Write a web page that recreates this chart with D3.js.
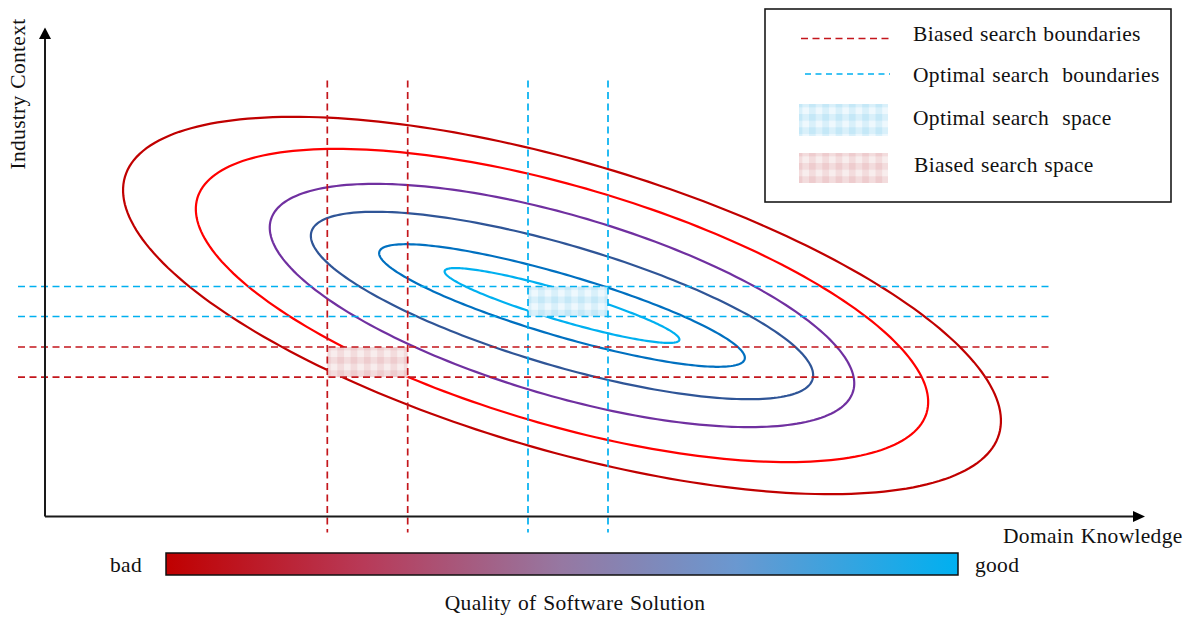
<!DOCTYPE html>
<html>
<head>
<meta charset="utf-8">
<script src="https://cdn.jsdelivr.net/npm/d3@7"></script>
<style>
    body { margin: 0; background: #fff; }
    svg text { font-family: "Liberation Serif", "Times New Roman", serif; fill: #111; letter-spacing: 0.3px; word-spacing: 1px; }
</style>
</head>
<body>
<svg id="chart" width="1186" height="617"></svg>
<script>
// contour levels, outer (bad) to inner (good)
var levelColors = ['#C00000', '#FF0000', '#7030A0', '#2F5597', '#0070C0', '#00B0F0'];
var levelRx = [455.6, 380.1, 303.5, 261.2, 190.4, 122.3];
var levelRy = [143.9, 118.9, 90.0, 60.3, 30.7, 15.1];
var levelCenter = [517, 211];
var levelTilt = -16.4;

// search boundaries
var biasedX = [282.3, 362.7];
var biasedY = [169.5, 139.3];
var optimalX = [483, 563];
var optimalY = [230, 200];

var legendItems = ['Biased search boundaries', 'Optimal search  boundaries', 'Optimal search  space', 'Biased search space'];
var qualityStops = [
    {offset: 0, color: '#C00000'},
    {offset: 0.25, color: '#B83A58'},
    {offset: 0.5, color: '#9678A2'},
    {offset: 0.72, color: '#6A98D0'},
    {offset: 1, color: '#00B0F0'}
];

var svg = d3.select('#chart');
var defs = svg.append('defs');
var fontSize = 21.5;
var biasRed = '#C4161C';

var x = d3.scaleLinear().domain([0, 1100]).range([45, 1145]);
var y = d3.scaleLinear().domain([0, 489]).range([516.5, 27.5]);

// gingham fill
function gingham(id, px, py, base, stripe) {
    var p = defs.append('pattern')
        .attr('id', id)
        .attr('patternUnits', 'userSpaceOnUse')
        .attr('x', px - 3.3).attr('y', py - 3.3)
        .attr('width', 13.3).attr('height', 13.3);
    p.append('rect').attr('width', 13.3).attr('height', 13.3).attr('fill', base);
    p.append('rect').attr('width', 6.7).attr('height', 13.3).attr('fill', stripe).attr('fill-opacity', 0.09);
    p.append('rect').attr('width', 13.3).attr('height', 6.7).attr('fill', stripe).attr('fill-opacity', 0.09);
}

// ellipses
var line = d3.line()
    .x(function (d) { return x(d[0]); })
    .y(function (d) { return y(d[1]); })
    .curve(d3.curveLinearClosed);

function ellipsePoints(a, b) {
    var phi = levelTilt * Math.PI / 180;
    return d3.range(240).map(function (i) {
        var t = i / 240 * 2 * Math.PI;
        var ex = a * Math.cos(t), ey = b * Math.sin(t);
        return [levelCenter[0] + ex * Math.cos(phi) - ey * Math.sin(phi),
                levelCenter[1] + ex * Math.sin(phi) + ey * Math.cos(phi)];
    });
}

svg.append('g').selectAll('path')
    .data(levelColors)
    .enter().append('path')
    .attr('d', function (c, i) { return line(ellipsePoints(levelRx[i], levelRy[i])); })
    .attr('fill', 'none')
    .attr('stroke', function (c) { return c; })
    .attr('stroke-width', 2.2);

// search spaces
function space(id, xs, ys, base, stripe) {
    var x0 = x(xs[0]), y0 = y(ys[0]);
    gingham(id, x0, y0, base, stripe);
    svg.append('rect')
        .attr('x', x0).attr('y', y0)
        .attr('width', x(xs[1]) - x0).attr('height', y(ys[1]) - y0)
        .attr('fill', 'url(#' + id + ')');
}
space('pOpt', optimalX, optimalY, '#EEF8FD', '#00A0E0');
space('pBias', biasedX, biasedY, '#F8EDED', '#C0303A');

// boundaries
var bounds = svg.append('g').attr('stroke-width', 1.7).attr('stroke-dasharray', '7,4.5');
function vLines(xs, color) {
    bounds.selectAll(null).data(xs).enter().append('line')
        .attr('x1', function (d) { return x(d); }).attr('x2', function (d) { return x(d); })
        .attr('y1', y(436)).attr('y2', y(-16))
        .attr('stroke', color);
}
function hLines(ys, color) {
    bounds.selectAll(null).data(ys).enter().append('line')
        .attr('x1', x(-27)).attr('x2', x(1005))
        .attr('y1', function (d) { return y(d); }).attr('y2', function (d) { return y(d); })
        .attr('stroke', color);
}
vLines(biasedX, biasRed);
vLines(optimalX, '#00B0F0');
hLines(optimalY, '#00B0F0');
hLines(biasedY, biasRed);

// axes
var xAxis = d3.axisBottom(x).tickValues([]).tickSizeOuter(0);
var yAxis = d3.axisLeft(y).tickValues([]).tickSizeOuter(0);
svg.append('g').attr('transform', 'translate(0,' + y(0) + ')').call(xAxis)
    .select('.domain').attr('stroke', '#1a1a1a').attr('stroke-width', 2)
    .attr('d', 'M' + x(0) + ',0H' + (x(1100) - 10));
svg.append('g').attr('transform', 'translate(' + x(0) + ',0)').call(yAxis)
    .select('.domain').attr('stroke', '#1a1a1a').attr('stroke-width', 2)
    .attr('d', 'M0,' + y(0) + 'V' + (y(489) + 10));
svg.append('path')
    .attr('d', 'M' + x(1100) + ',' + y(0) + 'l-12,-5.5v11z').attr('fill', '#000');
svg.append('path')
    .attr('d', 'M' + x(0) + ',' + y(489) + 'l-6,11.5h12z').attr('fill', '#000');

svg.append('text').attr('x', 1003).attr('y', 543).attr('font-size', fontSize).text('Domain Knowledge');
svg.append('text').attr('transform', 'translate(25,94) rotate(-90)')
    .attr('text-anchor', 'middle').attr('font-size', fontSize).text('Industry Context');

// quality bar
var grad = defs.append('linearGradient').attr('id', 'quality');
grad.selectAll('stop').data(qualityStops).enter().append('stop')
    .attr('offset', function (d) { return d.offset; })
    .attr('stop-color', function (d) { return d.color; });
svg.append('rect').attr('x', 166).attr('y', 553).attr('width', 792).attr('height', 22)
    .attr('fill', 'url(#quality)').attr('stroke', '#111').attr('stroke-width', 1.5);
svg.append('text').attr('x', 110).attr('y', 572).attr('font-size', fontSize).text('bad');
svg.append('text').attr('x', 975).attr('y', 572).attr('font-size', fontSize).text('good');
svg.append('text').attr('x', 575).attr('y', 610).attr('text-anchor', 'middle')
    .attr('font-size', fontSize).text('Quality of Software Solution');

// legend
var legend = svg.append('g');
legend.append('rect').attr('x', 765).attr('y', 9).attr('width', 406).attr('height', 193)
    .attr('fill', '#fff').attr('stroke', '#1a1a1a').attr('stroke-width', 1.6);
legend.append('line').attr('x1', 801).attr('x2', 890).attr('y1', 38.5).attr('y2', 38.5)
    .attr('stroke', biasRed).attr('stroke-width', 1.7).attr('stroke-dasharray', '7,4.5');
legend.append('line').attr('x1', 805).attr('x2', 890).attr('y1', 74).attr('y2', 74)
    .attr('stroke', '#00B0F0').attr('stroke-width', 1.7).attr('stroke-dasharray', '6,4.5');
gingham('lOpt', 799, 104, '#EEF8FD', '#00A0E0');
gingham('lBias', 799, 153, '#F8EDED', '#C0303A');
legend.append('rect').attr('x', 799).attr('y', 104).attr('width', 89).attr('height', 32).attr('fill', 'url(#lOpt)');
legend.append('rect').attr('x', 799).attr('y', 153).attr('width', 89).attr('height', 30).attr('fill', 'url(#lBias)');
var legendY = [41, 82, 125, 172];
legend.selectAll('text.item').data(legendItems).enter().append('text')
    .attr('class', 'item')
    .attr('x', function (d, i) { return i === 3 ? 914 : 913; })
    .attr('y', function (d, i) { return legendY[i]; })
    .attr('font-size', fontSize)
    .style('white-space', 'pre')
    .text(function (d) { return d; });
</script>
</body>
</html>
